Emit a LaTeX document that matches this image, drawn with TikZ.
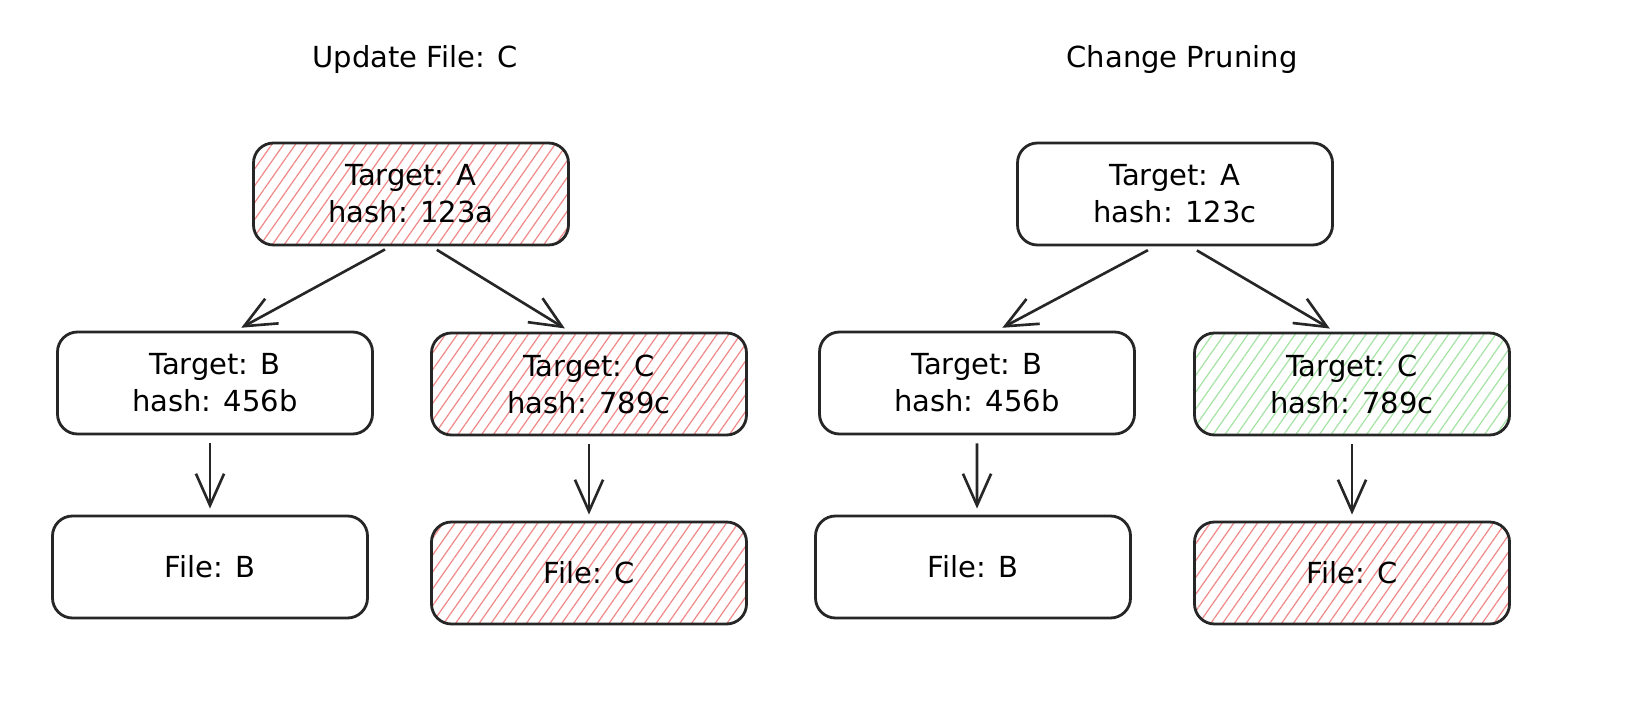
\documentclass[tikz,border=0pt]{standalone}
\usepackage{fontspec}
\setmainfont{DejaVu Sans}
\usetikzlibrary{arrows.meta,patterns.meta}
\definecolor{hatchred}{HTML}{F08A8A}
\definecolor{hatchgreen}{HTML}{A6E3A6}

\begin{document}
\begin{tikzpicture}[
  box/.style={draw=black!85,line width=1.6pt,rounded corners=0.4cm,minimum width=6.3cm,minimum height=2.04cm,align=center,font=\fontsize{16.5}{21}\selectfont},
  redbox/.style={box,pattern={Lines[angle=55,distance=5.5pt,line width=0.7pt]},pattern color=hatchred},
  greenbox/.style={box,pattern={Lines[angle=55,distance=5.5pt,line width=0.7pt]},pattern color=hatchgreen},
  arr/.style={-{Straight Barb[length=18pt,width=16pt,line width=1.5pt]},line width=1.5pt,black!85,shorten <=0.16cm,shorten >=0.12cm},
  title/.style={font=\fontsize{16.5}{20}\selectfont}
]
\useasboundingbox (0,0) rectangle (32.8,-14.36);

\node[title] (ltitle) at (8.30,-1.20) {Update File: C};
\node[title] (rtitle) at (23.64,-1.20) {Change Pruning};

\node[redbox] (lA) at (8.22,-3.88) {Target: A\\hash: 123a};
\node[box] (lB) at (4.30,-7.66) {Target: B\\hash: 456b};
\node[redbox] (lC) at (11.78,-7.68) {Target: C\\hash: 789c};
\node[box] (lFB) at (4.20,-11.34) {File: B};
\node[redbox] (lFC) at (11.78,-11.46) {File: C};

\node[box] (rA) at (23.50,-3.88) {Target: A\\hash: 123c};
\node[box] (rB) at (19.54,-7.66) {Target: B\\hash: 456b};
\node[greenbox] (rC) at (27.04,-7.68) {Target: C\\hash: 789c};
\node[box] (rFB) at (19.46,-11.34) {File: B};
\node[redbox] (rFC) at (27.04,-11.46) {File: C};

\draw[arr] ([xshift=-0.38cm]lA.south) -- ([xshift=0.42cm]lB.north);
\draw[arr] ([xshift=0.38cm]lA.south) -- ([xshift=-0.38cm]lC.north);
\draw[arr] ([xshift=-0.1cm]lB.south) -- (lFB.north);
\draw[arr] (lC.south) -- (lFC.north);

\draw[arr] ([xshift=-0.4cm]rA.south) -- ([xshift=0.4cm]rB.north);
\draw[arr] ([xshift=0.3cm]rA.south) -- ([xshift=-0.34cm]rC.north);
\draw[arr] (rB.south) -- ([xshift=0.08cm]rFB.north);
\draw[arr] (rC.south) -- (rFC.north);
\end{tikzpicture}
\end{document}
